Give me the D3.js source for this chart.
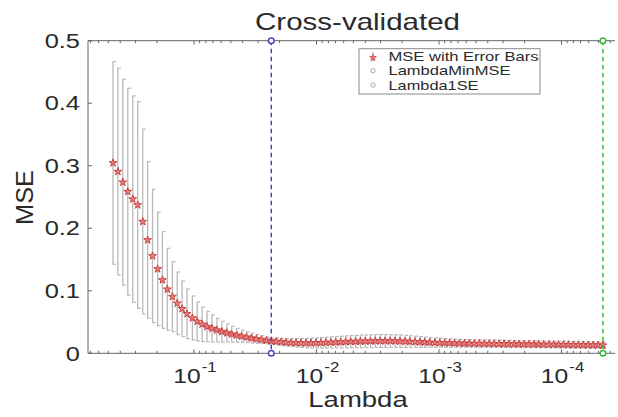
<!DOCTYPE html>
<html>
<head>
<meta charset="utf-8">
<script src="https://cdn.jsdelivr.net/npm/d3@7"></script>
<style>
  body { margin: 0; background: #fff; }
  text { font-family: "Liberation Sans", Arial, Helvetica, sans-serif; fill: #2a2a2a; }
</style>
</head>
<body>
<div id="chart"></div>
<script>
var lambda = [
  0.458, 0.418, 0.381, 0.347, 0.316, 0.288, 0.262, 0.239, 0.218, 0.198,
  0.181, 0.165, 0.150, 0.137, 0.125, 0.114, 0.103, 0.0942, 0.0859, 0.0783,
  0.0713, 0.0650, 0.0592, 0.0539, 0.0492, 0.0448, 0.0408, 0.0372, 0.0339, 0.0309,
  0.0281, 0.0256, 0.0234, 0.0213, 0.0194, 0.0177, 0.0161, 0.0147, 0.0134, 0.0122,
  0.0111, 0.0101, 0.00921, 0.00839, 0.00765, 0.00697, 0.00635, 0.00578, 0.00527, 0.00480,
  0.00438, 0.00399, 0.00363, 0.00331, 0.00302, 0.00275, 0.00250, 0.00228, 0.00208, 0.00189,
  0.00173, 0.00157, 0.00143, 0.00131, 0.00119, 0.00108, 0.000987, 0.000899, 0.000820, 0.000747,
  0.000681, 0.000620, 0.000566, 0.000515, 0.000469, 0.000427, 0.000389, 0.000355, 0.000323, 0.000295,
  0.000269, 0.000244, 0.000223, 0.000203, 0.000185, 0.000168, 0.000154, 0.000140, 0.000127, 0.000116,
  0.000106, 0.0000965, 0.0000879, 0.0000801, 0.0000730, 0.0000665, 0.0000606, 0.0000552, 0.0000503, 0.0000459
];

// cross-validated MSE
var mse = [
  0.3045, 0.2906, 0.2736, 0.2586, 0.2466, 0.2373, 0.2106, 0.1813, 0.1557, 0.1349,
  0.1173, 0.1024, 0.0906, 0.0800, 0.0712, 0.0632, 0.0565, 0.0509, 0.0464, 0.0427,
  0.0397, 0.0370, 0.0346, 0.0325, 0.0306, 0.0288, 0.0272, 0.0258, 0.0243, 0.0230,
  0.0218, 0.0206, 0.0195, 0.0188, 0.0181, 0.0175, 0.0170, 0.0167, 0.0165, 0.0164,
  0.0164, 0.0166, 0.0168, 0.0171, 0.0174, 0.0177, 0.0180, 0.0183, 0.0186, 0.0188,
  0.0191, 0.0193, 0.0195, 0.0196, 0.0197, 0.0197, 0.0196, 0.0195, 0.0193, 0.0190,
  0.0187, 0.0184, 0.0180, 0.0177, 0.0174, 0.0171, 0.0168, 0.0166, 0.0164, 0.0162,
  0.0160, 0.0159, 0.0157, 0.0156, 0.0155, 0.0154, 0.0153, 0.0152, 0.0151, 0.0150,
  0.0149, 0.0148, 0.0147, 0.0146, 0.0145, 0.0144, 0.0143, 0.0142, 0.0141, 0.0140,
  0.0139, 0.0138, 0.0137, 0.0136, 0.0135, 0.0134, 0.0133, 0.0132, 0.0131, 0.0130
];

// standard error of MSE (half length of the error bars)
var se = [
  0.1621, 0.1654, 0.1648, 0.1654, 0.1651, 0.1653, 0.1478, 0.1253, 0.1067, 0.0907,
  0.0773, 0.0656, 0.0560, 0.0501, 0.0445, 0.0397, 0.0352, 0.0312, 0.0277, 0.0242,
  0.0216, 0.0187, 0.0166, 0.0144, 0.0126, 0.0112, 0.0098, 0.0086, 0.0079, 0.0071,
  0.0062, 0.0055, 0.0050, 0.0052, 0.0056, 0.0060, 0.0064, 0.0068, 0.0071, 0.0074,
  0.0077, 0.0080, 0.0083, 0.0086, 0.0089, 0.0091, 0.0093, 0.0095, 0.0097, 0.0099,
  0.0100, 0.0101, 0.0102, 0.0103, 0.0103, 0.0103, 0.0102, 0.0101, 0.0099, 0.0096,
  0.0093, 0.0090, 0.0086, 0.0082, 0.0078, 0.0075, 0.0072, 0.0069, 0.0067, 0.0065,
  0.0063, 0.0062, 0.0061, 0.0060, 0.0059, 0.0058, 0.0058, 0.0057, 0.0057, 0.0056,
  0.0056, 0.0055, 0.0055, 0.0055, 0.0054, 0.0054, 0.0054, 0.0053, 0.0053, 0.0053,
  0.0053, 0.0052, 0.0052, 0.0052, 0.0052, 0.0052, 0.0051, 0.0051, 0.0051, 0.0051
];

var lambda1SE = 0.0234;       // blue dashed line
var lambdaMinMSE = 0.0000459; // green dashed line

var yTicks = [0, 0.1, 0.2, 0.3, 0.4, 0.5];
var yTickLabels = ["0", "0.1", "0.2", "0.3", "0.4", "0.5"];
var xTickExps = [-1, -2, -3, -4];
var legendLabels = ["MSE with Error Bars", "LambdaMinMSE", "Lambda1SE"];

var svgWidth = 618;
var svgHeight = 417;

var margin = { top: 40.7, right: 3, bottom: 63.7, left: 88 };
var width = svgWidth - margin.left - margin.right;
var height = svgHeight - margin.top - margin.bottom;

var svg = d3.select("#chart")
  .append("svg")
  .attr("width", svgWidth)
  .attr("height", svgHeight);

svg.append("rect")
  .attr("width", svgWidth)
  .attr("height", svgHeight)
  .attr("fill", "#fff");

var chartGroup = svg.append("g")
  .attr("transform", `translate(${margin.left}, ${margin.top})`);

// reversed log scale, lambda decreasing to the right
var xScale = d3.scaleLog()
  .domain([0.733, 0.0000366])
  .range([0, width]);

var yScale = d3.scaleLinear()
  .domain([0, 0.5])
  .range([height, 0]);

var axisColor = "#666";

// axis box lines (left, bottom, top)
chartGroup.append("line")
  .attr("x1", 0).attr("x2", 0).attr("y1", 0).attr("y2", height)
  .attr("stroke", axisColor).attr("stroke-width", 1);
chartGroup.append("line")
  .attr("x1", 0).attr("x2", width).attr("y1", height).attr("y2", height)
  .attr("stroke", axisColor).attr("stroke-width", 1);
chartGroup.append("line")
  .attr("x1", 0).attr("x2", width).attr("y1", 0).attr("y2", 0)
  .attr("stroke", axisColor).attr("stroke-width", 1);

// x ticks, major and minor, pointing inward on top and bottom
var xTickVals = [];
for (var e = -5; e <= 0; e++) {
  for (var k = 1; k <= 9; k++) {
    var v = k * Math.pow(10, e);
    if (v <= 0.733 && v >= 0.0000366) xTickVals.push({ v: v, major: k === 1 });
  }
}
var xTickGroup = chartGroup.append("g").attr("class", "x-ticks");
xTickGroup.selectAll("line.bottom")
  .data(xTickVals)
  .enter()
  .append("line")
  .attr("class", "bottom")
  .attr("x1", d => xScale(d.v)).attr("x2", d => xScale(d.v))
  .attr("y1", height).attr("y2", d => height - (d.major ? 4 : 2.5))
  .attr("stroke", axisColor).attr("stroke-width", 1);
xTickGroup.selectAll("line.top")
  .data(xTickVals)
  .enter()
  .append("line")
  .attr("class", "top")
  .attr("x1", d => xScale(d.v)).attr("x2", d => xScale(d.v))
  .attr("y1", 0).attr("y2", d => (d.major ? 4 : 2.5))
  .attr("stroke", axisColor).attr("stroke-width", 1);

// y ticks
chartGroup.selectAll("line.ytick")
  .data(yTicks)
  .enter()
  .append("line")
  .attr("class", "ytick")
  .attr("x1", 0).attr("x2", 4)
  .attr("y1", d => yScale(d)).attr("y2", d => yScale(d))
  .attr("stroke", axisColor).attr("stroke-width", 1);

// y tick labels (image is a bit stretched horizontally, so scale the glyphs)
chartGroup.selectAll("text.ylabel")
  .data(yTicks)
  .enter()
  .append("text")
  .attr("class", "ylabel")
  .attr("transform", d => `translate(-8, ${yScale(d) + 7.2}) scale(1.27, 1)`)
  .attr("text-anchor", "end")
  .style("font-size", "20px")
  .text((d, i) => yTickLabels[i]);

// x tick labels 10^-n
var xLabels = chartGroup.selectAll("text.xlabel")
  .data(xTickExps)
  .enter()
  .append("text")
  .attr("class", "xlabel")
  .attr("transform", d => `translate(${xScale(Math.pow(10, d)) + 1}, ${height + 29.3}) scale(1.2, 1)`)
  .attr("text-anchor", "middle")
  .style("font-size", "20.5px");
xLabels.append("tspan").text("10");
xLabels.append("tspan")
  .attr("dy", -11)
  .attr("dx", 1)
  .style("font-size", "14px")
  .text(d => "-" + Math.abs(d));

// axis titles
svg.append("text")
  .attr("transform", `translate(358, 406.5) scale(1.28, 1)`)
  .attr("text-anchor", "middle")
  .style("font-size", "21.5px")
  .text("Lambda");

svg.append("text")
  .attr("transform", `translate(33, 197.5) rotate(-90)`)
  .attr("text-anchor", "middle")
  .style("font-size", "24px")
  .attr("textLength", 55)
  .attr("lengthAdjust", "spacingAndGlyphs")
  .text("MSE");

svg.append("text")
  .attr("transform", `translate(357.5, 30) scale(1.23, 1)`)
  .attr("text-anchor", "middle")
  .style("font-size", "24px")
  .text("Cross-validated");

// error bars
var barColor = "#b8b8b8";
var idx = d3.range(lambda.length);
var bars = chartGroup.append("g").attr("class", "errorbars");
bars.selectAll("line.err")
  .data(idx)
  .enter()
  .append("line")
  .attr("class", "err")
  .attr("x1", i => xScale(lambda[i])).attr("x2", i => xScale(lambda[i]))
  .attr("y1", i => yScale(mse[i] + se[i])).attr("y2", i => yScale(mse[i] - se[i]))
  .attr("stroke", barColor).attr("stroke-width", 1.3);
bars.selectAll("line.capTop")
  .data(idx)
  .enter()
  .append("line")
  .attr("class", "capTop")
  .attr("x1", i => xScale(lambda[i]) - 0.5).attr("x2", i => xScale(lambda[i]) + 3)
  .attr("y1", i => yScale(mse[i] + se[i])).attr("y2", i => yScale(mse[i] + se[i]))
  .attr("stroke", barColor).attr("stroke-width", 1.2);
bars.selectAll("line.capBot")
  .data(idx)
  .enter()
  .append("line")
  .attr("class", "capBot")
  .attr("x1", i => xScale(lambda[i]) - 0.5).attr("x2", i => xScale(lambda[i]) + 3)
  .attr("y1", i => yScale(mse[i] - se[i])).attr("y2", i => yScale(mse[i] - se[i]))
  .attr("stroke", barColor).attr("stroke-width", 1.2);

// MSE markers (pentagrams)
var star = d3.symbol().type(d3.symbolStar).size(19);
chartGroup.append("g").attr("class", "stars")
  .selectAll("path")
  .data(idx)
  .enter()
  .append("path")
  .attr("d", star)
  .attr("transform", i => `translate(${xScale(lambda[i])}, ${yScale(mse[i])})`)
  .attr("fill", "#e48080")
  .attr("stroke", "#c83a3a")
  .attr("stroke-width", 0.9);

// dashed lines at Lambda1SE (blue) and LambdaMinMSE (green)
var vlines = [
  { lam: lambda1SE, color: "#4646c0" },
  { lam: lambdaMinMSE, color: "#36b836" }
];
vlines.forEach(function(d) {
  var x = xScale(d.lam);
  chartGroup.append("line")
    .attr("x1", x).attr("x2", x)
    .attr("y1", yScale(0.5)).attr("y2", yScale(0))
    .attr("stroke", d.color)
    .attr("stroke-width", 1.5)
    .attr("stroke-dasharray", "4.5,3.5");
  chartGroup.selectAll(null)
    .data([0, 0.5])
    .enter()
    .append("circle")
    .attr("cx", x)
    .attr("cy", v => yScale(v))
    .attr("r", 2.8)
    .attr("fill", "#fff")
    .attr("stroke", d.color)
    .attr("stroke-width", 1.5);
});

// legend
var legend = svg.append("g").attr("transform", "translate(359, 48.7)");
legend.append("rect")
  .attr("width", 181).attr("height", 45.3)
  .attr("fill", "#fff")
  .attr("stroke", "#8a8a8a").attr("stroke-width", 1);

var rowY = [8, 22, 36.3];
var rowLen = [150, 122, 90];
legend.selectAll("text")
  .data(legendLabels)
  .enter()
  .append("text")
  .attr("x", 29.5)
  .attr("y", (d, i) => rowY[i] + 4.6)
  .attr("textLength", (d, i) => rowLen[i])
  .attr("lengthAdjust", "spacingAndGlyphs")
  .style("font-size", "13px")
  .text(d => d);

// legend markers
legend.append("line")
  .attr("x1", 14).attr("x2", 14).attr("y1", rowY[0] - 5).attr("y2", rowY[0] + 5)
  .attr("stroke", barColor).attr("stroke-width", 1.2);
legend.append("path")
  .attr("d", d3.symbol().type(d3.symbolStar).size(14))
  .attr("transform", `translate(14, ${rowY[0] + 1})`)
  .attr("fill", "#e48080").attr("stroke", "#c83a3a").attr("stroke-width", 0.7);
legend.selectAll("circle")
  .data([rowY[1], rowY[2]])
  .enter()
  .append("circle")
  .attr("cx", 14).attr("cy", d => d)
  .attr("r", 2.2)
  .attr("fill", "#fff")
  .attr("stroke", "#a8a8a8").attr("stroke-width", 1);
</script>
</body>
</html>
